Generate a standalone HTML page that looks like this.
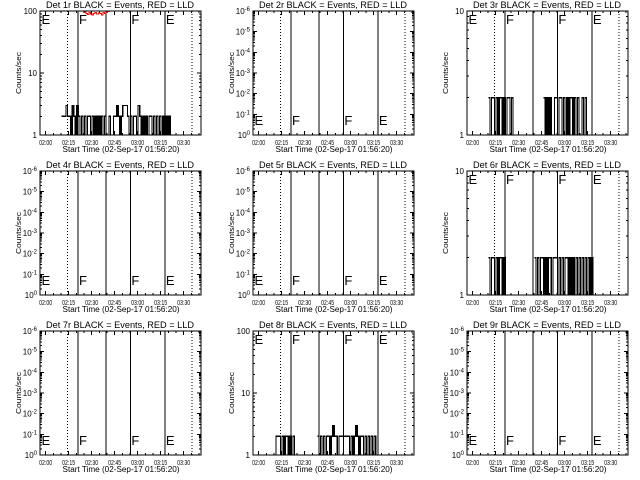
<!DOCTYPE html>
<html><head><meta charset="utf-8"><style>
html,body{margin:0;padding:0;background:#fff}
svg{display:block}
text{font-family:"Liberation Sans",sans-serif;fill:#000}
</style></head><body>
<svg id="chart" width="640" height="480" viewBox="0 0 640 480" xmlns="http://www.w3.org/2000/svg" shape-rendering="crispEdges"></svg>
<script>
// ---- data ----
const detNames = ["1r","2r","3r","4r","5r","6r","7r","8r","9r"];
const yMaxes = [100,1e6,10,1e6,1e6,10,1e6,100,1e6];
const xTickLabels = ["02:00","02:15","02:30","02:45","03:00","03:15","03:30"];
const xTickMinutes = [3.67,18.67,33.67,48.67,63.67,78.67,93.67];
const solidLines = [24.8,43,59,81.5];
const dottedLines = [18,99];
const eventLabels = ["E","F","F","E"];
const eventLabelMinutes = [1,25.4,59.6,82.1];
const startMin1 = 14;
const counts1 = [2,2,2,3,2,2,1,3,2,1,3,2,1,2,1,2,1,2,2,1,2,1,2,1,2,1,2,1,2,1,1,2,1,1,2,2,3,2,1,2,3,3,3,2,1,2,1,2,2,1,3,2,1,2,1,2,1,2,2,1,2,1,2,1,2,1,2,1,2,1,2,1];
const startMinRed1 = 29;
const red1 = [96,92,88,94,90,86,92,95,89,93,91,87,94,92,96,98,100];
const startMin3 = 14;
const counts3 = [2,1,2,2,1,2,1,2,2,1,2,1,2,2,1,2,1,1,0,0,0,0,0,0,0,0,0,0,0,0,0,0,0,0,0,0,2,1,2,1,2,1,1,2,2,1,2,2,1,2,1,2,1,2,2,1,2,1,2,1,1,2,1,2,1,1];
const startMin6 = 14;
const counts6 = [2,1,2,2,1,2,1,2,2,1,2,1,0,0,0,0,0,0,0,0,0,0,0,0,0,0,0,0,0,0,2,1,2,1,2,2,1,2,1,2,2,1,2,2,2,1,2,1,2,1,2,2,1,2,1,2,1,2,1,2,1,2,1,2,1,2,1,2,1];
const startMin8 = 14;
const counts8 = [1,2,2,2,1,2,1,2,2,1,2,1,2,1,0,0,0,0,0,0,0,0,0,0,0,0,0,0,2,1,2,1,2,1,2,2,1,2,3,2,2,1,2,2,2,2,2,2,2,1,2,1,2,3,2,1,2,2,1,2,1,2,1,2,1,2,1,1];

const colX = [40,253,467], rowY = [11,171,331], W = 161, H = 124, SPAN = 105;
const svg = document.getElementById('chart');
const NS = 'http://www.w3.org/2000/svg';
function mk(tag, attrs, parent){const e=document.createElementNS(NS,tag);for(const k in attrs)e.setAttribute(k,attrs[k]);(parent||svg).appendChild(e);return e;}

const seriesFor = {0:[startMin1,counts1],2:[startMin3,counts3],5:[startMin6,counts6],7:[startMin8,counts8]};

for(let p=0;p<9;p++){
  const x0=colX[p%3], y0=rowY[Math.floor(p/3)], ymax=yMaxes[p];
  const g=mk('g',{});
  
  
  const xs=m=>x0+m/SPAN*W;
  const ys=v=>y0+H-Math.log10(Math.max(v,1))/Math.log10(ymax)*H;
  const t=mk('text',{x:x0+80,y:y0-3,'font-size':9,'text-anchor':'middle',textLength:148,lengthAdjust:'spacingAndGlyphs'},g);
  t.textContent='Det '+detNames[p]+' BLACK = Events, RED = LLD';
  
  
  const yt=mk('text',{x:0,y:0,'font-size':7,'text-anchor':'middle',textLength:42,lengthAdjust:'spacingAndGlyphs',transform:`translate(${x0-19},${y0+62}) rotate(-90)`},g);
  yt.textContent='Counts/sec';
  
  
  const xt=mk('text',{x:x0+81,y:y0+H+17,'font-size':8,'text-anchor':'middle',textLength:117,lengthAdjust:'spacingAndGlyphs'},g);
  xt.textContent='Start Time (02-Sep-17 01:56:20)';
  
  
  xTickMinutes.forEach((m,i)=>{
    const X=xs(m);
    mk('line',{x1:X,x2:X,y1:y0+H,y2:y0+H-4,stroke:'#000'},g);
    mk('line',{x1:X,x2:X,y1:y0,y2:y0+4,stroke:'#000'},g);
    const l=mk('text',{x:X,y:y0+H+10,'font-size':7,'text-anchor':'middle',textLength:13,lengthAdjust:'spacingAndGlyphs'},g);
    l.textContent=xTickLabels[i];
    
    
    for(let k=1;k<3;k++){const mx=xs(m+k*5);if(mx<x0+W){
      mk('line',{x1:mx,x2:mx,y1:y0+H,y2:y0+H-2,stroke:'#000'},g);
      mk('line',{x1:mx,x2:mx,y1:y0,y2:y0+2,stroke:'#000'},g);}}
  });
  const dec=Math.round(Math.log10(ymax));
  for(let d=0;d<=dec;d++){
    const Y=ys(Math.pow(10,d));
    mk('line',{x1:x0,x2:x0+4,y1:Y,y2:Y,stroke:'#000'},g);
    mk('line',{x1:x0+W,x2:x0+W-4,y1:Y,y2:Y,stroke:'#000'},g);
    const l=mk('text',{x:x0-3,y:Y+3,'font-size':8,'text-anchor':'end'},g);
    if(ymax<=100){l.textContent=String(Math.pow(10,d));}
    else{l.textContent='10';const s=mk('tspan',{dy:-3,'font-size':6},l);s.textContent=d===0?'0':'-'+d;}
    
    
    if(d<dec){for(let k=2;k<10;k++){const yy=ys(k*Math.pow(10,d));
      mk('line',{x1:x0,x2:x0+2,y1:yy,y2:yy,stroke:'#000'},g);
      mk('line',{x1:x0+W,x2:x0+W-2,y1:yy,y2:yy,stroke:'#000'},g);}}
  }
  solidLines.forEach(m=>{const l=mk('line',{x1:xs(m),x2:xs(m),y1:y0,y2:y0+H,stroke:'#000','stroke-width':1},g);
    });
  dottedLines.forEach(m=>{const l=mk('line',{x1:xs(m),x2:xs(m),y1:y0,y2:y0+H,stroke:'#000','stroke-width':1,'stroke-dasharray':'1,2'},g);
    });
  const top = ymax<=100;
  eventLabels.forEach((s,i)=>{
    const l=mk('text',{x:xs(eventLabelMinutes[i]),y:top?y0+13:y0+H-10,'font-size':13},g);
    l.textContent=s;
    
    
  });
  const ser=seriesFor[p];
  if(ser){
    const [st,arr]=ser;let d='',pen=false;
    arr.forEach((v,i)=>{
      if(v<=0){pen=false;return;}
      const xa=xs(st+i),xb=xs(st+i+1),Y=ys(v);
      d+=(pen?'L':'M')+xa.toFixed(2)+','+Y.toFixed(2)+'L'+xb.toFixed(2)+','+Y.toFixed(2);
      pen=true;
    });
    const path=mk('path',{d:d,fill:'none',stroke:'#000','stroke-width':1.2},g);
    
    
  }
  if(p===0){
    let d='';
    red1.forEach((v,i)=>{const xa=xs(startMinRed1+i),xb=xs(startMinRed1+i+1),Y=ys(v);
      d+=(i?'L':'M')+xa.toFixed(2)+','+Y.toFixed(2)+'L'+xb.toFixed(2)+','+Y.toFixed(2);});
    const rp=mk('path',{d:d,fill:'none',stroke:'#f00','stroke-width':1},g);
    
    
  }
  const fr=mk('rect',{x:x0,y:y0,width:W,height:H,fill:'none',stroke:'#000','stroke-width':1},g);
  
  
}
</script>
</body></html>
